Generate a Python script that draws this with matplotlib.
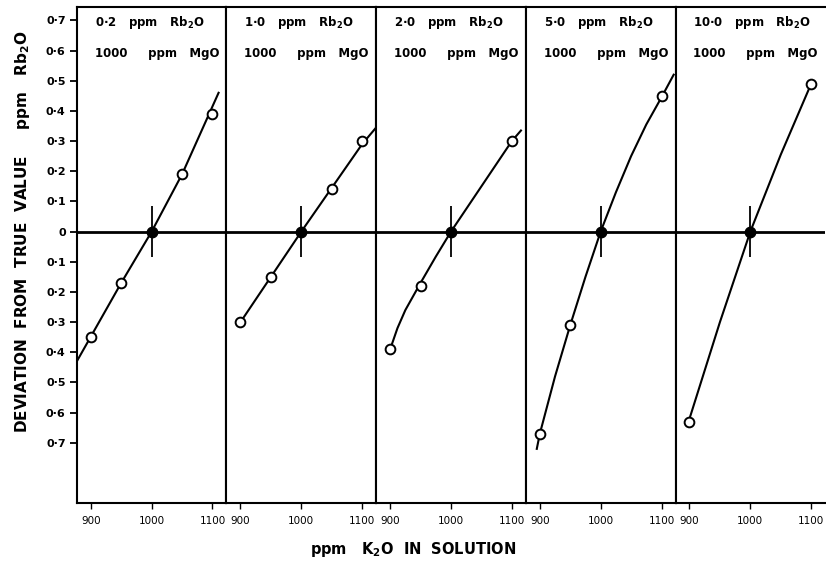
import matplotlib.pyplot as plt
import numpy as np

# --- Data ---
rb2o_labels = ['0·2', '1·0', '2·0', '5·0', '10·0']

# measured points (open circles)
pts_x = [
    [900, 950, 1050, 1100],
    [900, 950, 1050, 1100],
    [900, 950, 1100],
    [900, 950, 1100],
    [900, 1100],
]
pts_y = [
    [-0.35, -0.17, 0.19, 0.39],
    [-0.30, -0.15, 0.14, 0.30],
    [-0.39, -0.18, 0.30],
    [-0.67, -0.31, 0.45],
    [-0.63, 0.49],
]

# hand-drawn calibration curves
curve_x = [
    [877, 950, 1000, 1050, 1110],
    [900, 950, 1000, 1050, 1100, 1123],
    [900, 912, 925, 950, 975, 1000, 1050, 1100, 1115],
    [895, 900, 925, 950, 975, 1000, 1025, 1050, 1075, 1100, 1120],
    [900, 950, 1000, 1050, 1100],
]
curve_y = [
    [-0.43, -0.17, 0.0, 0.19, 0.46],
    [-0.30, -0.15, 0.0, 0.145, 0.29, 0.345],
    [-0.39, -0.32, -0.26, -0.17, -0.083, 0.0, 0.15, 0.30, 0.335],
    [-0.72, -0.67, -0.48, -0.31, -0.15, 0.0, 0.13, 0.25, 0.355, 0.445, 0.52],
    [-0.62, -0.30, 0.0, 0.255, 0.49],
]

true_x = 1000
err_half = 0.085

yticks = np.round(np.arange(-0.7, 0.71, 0.1), 1)
ytick_labels = ['0' if v == 0 else ('0·%d' % round(abs(v) * 10)) for v in yticks]
xticks = [900, 1000, 1100]

# --- Figure ---
fig, axes = plt.subplots(1, 5, sharey=True, figsize=(8.26, 5.66), dpi=100)
fig.subplots_adjust(left=0.093, right=0.999, bottom=0.111, top=0.988, wspace=0)

for i, ax in enumerate(axes):
    ax.axhline(0, color='black', lw=2.0, zorder=1)
    ax.plot(curve_x[i], curve_y[i], color='black', lw=1.5, zorder=2)
    ax.vlines(true_x, -err_half, err_half, color='black', lw=1.3, zorder=2)
    ax.plot(pts_x[i], pts_y[i], 'o', ms=7, mfc='white', mec='black', mew=1.4, zorder=3)
    ax.plot([true_x], [0], 'o', ms=7.5, color='black', zorder=4)

    ax.set_xlim(877, 1123)
    ax.set_ylim(-0.9, 0.745)
    ax.set_xticks(xticks)
    ax.set_xticklabels([str(t) for t in xticks], fontsize=7.5)
    ax.tick_params(axis='x', direction='out', length=4, width=1, pad=5)
    for s in ax.spines.values():
        s.set_linewidth(1.5)
        s.set_color('black')
    if i > 0:
        ax.tick_params(axis='y', left=False)

    ax.text(0.12, 0.985, rb2o_labels[i] + '   ppm   Rb$_{\\mathbf{2}}$O', transform=ax.transAxes,
            fontsize=8.5, fontweight='bold', va='top', ha='left')
    ax.text(0.12, 0.92, '1000     ppm   MgO', transform=ax.transAxes,
            fontsize=8.5, fontweight='bold', va='top', ha='left')

axes[-1].spines['right'].set_visible(False)

axes[0].set_yticks(yticks)
axes[0].set_yticklabels(ytick_labels, fontsize=8, fontweight='bold')
axes[0].tick_params(axis='y', direction='out', length=5, width=1.3, pad=3)

fig.text(0.027, 0.59, 'DEVIATION  FROM  TRUE  VALUE     ppm   Rb$_{\\mathbf{2}}$O',
         rotation=90, ha='center', va='center', fontsize=11, fontweight='bold')
fig.text(0.50, 0.030, 'ppm   K$_{\\mathbf{2}}$O  IN  SOLUTION', ha='center', va='center',
         fontsize=10.5, fontweight='bold')

plt.savefig('out.png')
